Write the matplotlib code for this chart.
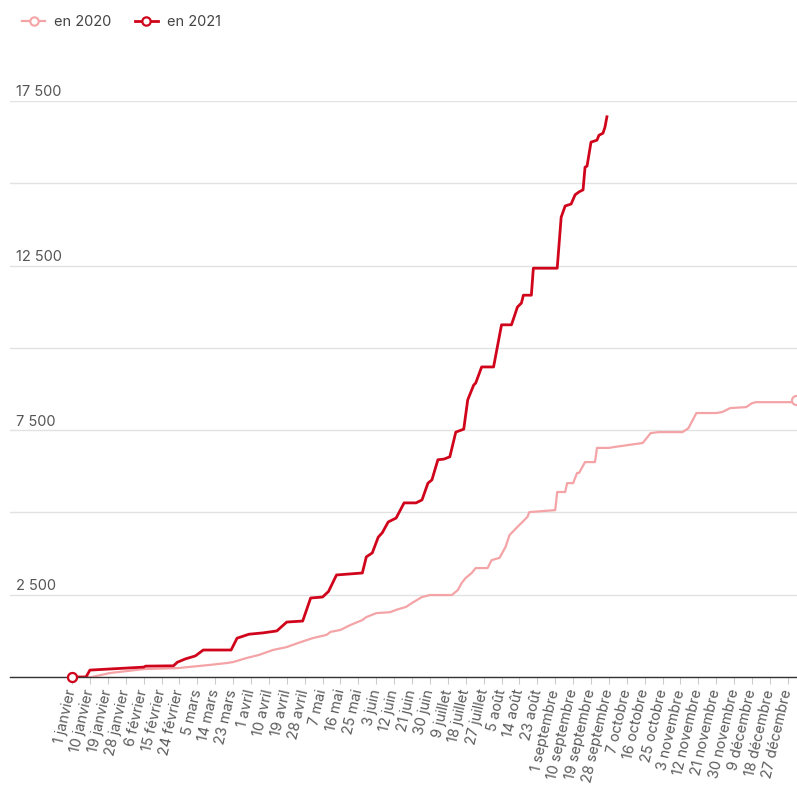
import matplotlib
matplotlib.use("Agg")
import matplotlib.pyplot as plt
from matplotlib.transforms import offset_copy, blended_transform_factory
from matplotlib.lines import Line2D

plt.rcParams['font.family'] = ['Inter', 'DejaVu Sans']

# ---- data (day index from 1 January, cumulative count) ----
days_2021 = [0, 7, 9, 36, 37, 51, 53, 57, 62, 66, 80, 83, 89, 96, 103, 108, 116, 120, 126,
             129, 133, 146, 148, 151, 154, 156, 159, 163, 167, 173, 176, 179, 181, 184, 187,
             190, 193, 197, 199, 202, 203, 206, 212, 216, 221, 224, 226, 227, 231, 232, 244,
             246, 248, 251, 253, 255, 257, 258, 259, 261, 264, 265, 267, 268, 269]
vals_2021 = [0, 0, 210, 300, 330, 340, 450, 550, 640, 820, 820, 1180, 1300, 1340, 1400, 1670,
             1700, 2400, 2430, 2600, 3100, 3160, 3650, 3770, 4250, 4380, 4710, 4830, 5290,
             5290, 5380, 5890, 5990, 6600, 6620, 6690, 7440, 7530, 8420, 8870, 8930, 9420,
             9420, 10700, 10700, 11240, 11360, 11600, 11600, 12420, 12420, 13970, 14310,
             14370, 14650, 14740, 14800, 15490, 15520, 16250, 16310, 16460, 16520, 16700, 17020]

days_2020 = [0, 10, 19, 36, 53, 69, 78, 81, 88, 94, 101, 108, 115, 121, 128, 130, 135, 140,
             146, 148, 153, 160, 163, 168, 171, 176, 180, 191, 194, 196, 198, 201, 203, 209,
             211, 215, 218, 220, 224, 229, 230, 243, 244, 248, 249, 252, 254, 255, 258, 263,
             264, 270, 273, 280, 287, 289, 291, 295, 307, 310, 314, 324, 327, 331, 339, 342,
             344, 362, 364]
vals_2020 = [0, 0, 120, 240, 270, 365, 425, 455, 580, 670, 820, 910, 1060, 1180, 1280, 1370,
             1430, 1580, 1730, 1820, 1940, 1970, 2040, 2130, 2250, 2430, 2490, 2490, 2640,
             2860, 3010, 3160, 3310, 3310, 3550, 3620, 3950, 4310, 4560, 4860, 5010, 5070,
             5620, 5620, 5890, 5890, 6200, 6200, 6530, 6530, 6960, 6960, 6990, 7050, 7110,
             7260, 7410, 7440, 7440, 7560, 8020, 8020, 8050, 8170, 8200, 8320, 8350, 8350, 8420]

tick_days = list(range(0, 361, 9))
tick_labels = ["1 janvier", "10 janvier", "19 janvier", "28 janvier", "6 février", "15 février",
               "24 février", "5 mars", "14 mars", "23 mars", "1 avril", "10 avril", "19 avril",
               "28 avril", "7 mai", "16 mai", "25 mai", "3 juin", "12 juin", "21 juin", "30 juin",
               "9 juillet", "18 juillet", "27 juillet", "5 août", "14 août", "23 août",
               "1 septembre", "10 septembre", "19 septembre", "28 septembre", "7 octobre",
               "16 octobre", "25 octobre", "3 novembre", "12 novembre", "21 novembre",
               "30 novembre", "9 décembre", "18 décembre", "27 décembre"]

y_grid = [0, 2500, 5000, 7500, 10000, 12500, 15000, 17500]
y_labelled = [2500, 7500, 12500, 17500]
y_label_text = ["2 500", "7 500", "12 500", "17 500"]

series_names = ["en 2020", "en 2021"]

C2020 = "#f4a3a6"
C2021 = "#d0051c"

W, H = 797, 789
fig = plt.figure(figsize=(W / 100, H / 100), dpi=100)
ax = fig.add_axes([10 / W, (H - 677) / H, (W - 10) / W, (677 - 101) / H])

ax.set_xlim(-31.2, 364.6)
ax.set_ylim(0, 17500)

for s in ["left", "right", "top"]:
    ax.spines[s].set_visible(False)
ax.spines["bottom"].set_color("#333333")
ax.spines["bottom"].set_linewidth(1.0)
ax.spines["bottom"].set_zorder(4)

ax.set_yticks(y_grid)
ax.set_yticklabels([])
ax.tick_params(axis="y", length=0)
ax.grid(axis="y", color="#e2e2e2", linewidth=1.0)
ax.set_axisbelow(True)

ax.set_xticks(tick_days)
ax.set_xticklabels(tick_labels, rotation=77, ha="right", va="center",
                   rotation_mode="anchor", fontsize=10.4, color="#5a5a5a")
ax.tick_params(axis="x", length=5, color="#cccccc", width=0.8, pad=4)

# lines
ax.plot(days_2020, vals_2020, color=C2020, lw=1.6, zorder=3, solid_joinstyle="round")
ax.plot(days_2021, vals_2021, color=C2021, lw=2.0, zorder=3.5, solid_joinstyle="round")

# end / start markers
ax.plot([days_2020[0], days_2020[-1]], [vals_2020[0], vals_2020[-1]], ls="none", marker="o",
        ms=6.5, mfc="white", mec=C2020, mew=1.5, zorder=5, clip_on=False)
ax.plot([days_2021[0]], [vals_2021[0]], ls="none", marker="o",
        ms=6.5, mfc="white", mec=C2021, mew=1.6, zorder=6, clip_on=False)

# y labels above gridlines
tr = blended_transform_factory(ax.transAxes, ax.transData)
tr = offset_copy(tr, fig=fig, x=0, y=1.5, units="dots")
for v, t in zip(y_labelled, y_label_text):
    ax.text(6 / (W - 10), v, t, transform=tr, ha="left", va="bottom",
            fontsize=10.5, color="#555555")

# legend
handles = [Line2D([], [], color=C2020, lw=1.6, marker="o", ms=6, mfc="white", mec=C2020, mew=1.5),
           Line2D([], [], color=C2021, lw=2.0, marker="o", ms=6, mfc="white", mec=C2021, mew=1.6)]
fig.legend(handles, series_names, loc="center left", bbox_to_anchor=(9 / W, 1 - 22 / H),
           ncol=2, frameon=False, fontsize=10.5, handlelength=1.6, handletextpad=0.6,
           columnspacing=1.6, labelcolor="#444444")

fig.savefig("out.png", dpi=100)
